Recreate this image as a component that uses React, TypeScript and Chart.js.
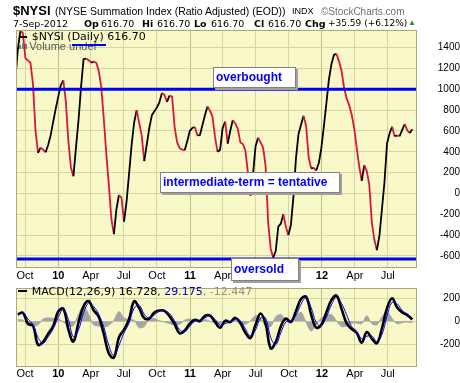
import React, { useEffect, useRef } from 'react';
import { Chart, registerables } from 'chart.js';

Chart.register(...registerables);

// ---------- data ----------
const DAY = 86400000;
const ORIGIN = Date.UTC(2009, 8, 1);
const dayNum = (iso: string) => {
  const [y, m, d] = iso.split('-').map(Number);
  return (Date.UTC(y, m - 1, d) - ORIGIN) / DAY;
};

const axisStart = '2009-09-06';
const axisEnd = '2012-09-20';

const tickDates = [
  '2009-10-01', '2010-01-01', '2010-04-01', '2010-07-01', '2010-10-01', '2011-01-01',
  '2011-04-01', '2011-07-01', '2011-10-01', '2012-01-01', '2012-04-01', '2012-07-01',
];
const tickLabels = ['Oct', '10', 'Apr', 'Jul', 'Oct', '11', 'Apr', 'Jul', 'Oct', '12', 'Apr', 'Jul'];
const yearLabels = ['10', '11', '12'];

const nysiTicks = [-600, -400, -200, 0, 200, 400, 600, 800, 1000, 1200, 1400];
const nysiMin = -709;
const nysiMax = 1574;
const macdTicks = [-200, 0, 200];
const macdMin = -398;
const macdMax = 291;

const overboughtLevel = 1000;
const oversoldLevel = -630;

// weekly NYSI closes, first week ending 2009-09-04
const nysiStart = '2009-09-04';
const nysiWeekly = [
  1080, 1380, 1560, 1540, 1300, 1275, 1255, 1050, 600, 390,
  440, 420, 395, 465, 560, 690, 815, 930, 1040, 1085,
  880, 500, 250, 165, 440, 700, 1020, 1290, 1295, 1280,
  1255, 1265, 1255, 1180, 1020, 720, 380, 80, -245, -390,
  -150, -15, -40, -270, -80, 190, 465, 680, 800, 680,
  555, 310, 470, 630, 750, 790, 825, 875, 965, 945,
  880, 940, 930, 640, 490, 435, 420, 415, 500, 600,
  628, 638, 557, 560, 655, 750, 835, 795, 735, 540,
  400, 420, 630, 690, 478, 600, 703, 672, 620, 490,
  475, 410, 200, -20, 180, 450, 535, 490, 440, 260,
  -280, -530, -617, -550, -320, -290, -200, -320, -400, -300,
  -30, 340, 570, 660, 745, 650, 350, 240, 245, 220,
  290, 430, 640, 860, 1090, 1240, 1330, 1340, 1270, 1180,
  1020, 915, 850, 760, 630, 440, 260, 120, 272, 215,
  80, -280, -445, -545, -405, -150, 110, 480, 575, 640,
  550, 555, 550, 610, 665, 605, 580, 617,
];

// MACD(12,26,9), read every two weeks, first point 2009-09-11
const macdStart = '2009-09-11';
const macdLine = [
  60, 75, -20, -38, -205, -178, -108, -40, 86, 110,
  -70, -176, -10, 132, 175, 97, 40, -110, -280, -315,
  -140, -72, 20, 175, 115, 28, 25, 78, 94, 92,
  45, -25, -105, -80, -20, 13, 3, 48, 50, -5,
  -55, 5, -6, 30, -15, -100, -145, -30, 68, -25,
  -235, -180, -45, 25, -5, 90, 195, 215, 60, -55,
  -30, 78, 185, 225, 110, -15, -66, -100, -185, -93,
  -150, -190, -60, 115, 202, 120, 78, 55, 17,
];
const signalLine = [
  55, 75, 20, -30, -140, -190, -135, -65, 35, 105,
  15, -135, -75, 75, 160, 130, 62, -50, -210, -300,
  -210, -100, -15, 115, 140, 62, 27, 58, 88, 93,
  67, 5, -72, -90, -43, 2, 8, 30, 49, 18,
  -33, -20, -2, 15, 6, -66, -127, -76, 29, 30,
  -140, -202, -100, -5, 8, 52, 150, 207, 120, -9,
  -40, 36, 143, 209, 156, 60, -45, -86, -151, -130,
  -127, -177, -114, 45, 167, 153, 95, 64, 29,
];
const histogram = [
  15, 10, -35, -40, -30, 20, 30, 25, 20, -5,
  -40, -35, 60, 135, 60, -30, -40, -50, -35, 10,
  85, 30, 15, 10, -55, -45, 25, 25, 5, -5,
  -20, -30, -25, 10, 20, 10, -5, 15, 0, -15,
  -20, 10, -10, 5, -15, -25, 5, 50, 30, -40,
  -45, 40, 60, 10, -10, 40, 80, -10, -85, -30,
  30, 50, 60, 5, -45, -40, -15, -15, -20, 50,
  -20, -30, 40, 85, 25, -20, -10, -5, -12,
];

// ---------- styling ----------
const SANS = "'Liberation Sans', Arial, sans-serif";
const DEJAVU = "'DejaVu Sans', Verdana, sans-serif";
const PLOT_BG = 'rgb(248,248,200)';
const GRID = 'rgb(214,214,160)';
const GRID_YEAR = 'rgb(190,190,130)';
const FRAME = 'rgb(170,170,120)';
const RED = 'rgb(220,20,60)';
const BLUE = '#0000ff';

const panelPlugin = {
  id: 'panel',
  beforeDraw(chart: any) {
    const { ctx, chartArea: a } = chart;
    ctx.save();
    ctx.fillStyle = PLOT_BG;
    ctx.fillRect(a.left, a.top, a.right - a.left, a.bottom - a.top);
    ctx.restore();
  },
  afterDraw(chart: any) {
    const { ctx, chartArea: a } = chart;
    ctx.save();
    ctx.strokeStyle = FRAME;
    ctx.lineWidth = 1;
    ctx.strokeRect(Math.round(a.left) + 0.5, Math.round(a.top) + 0.5, Math.round(a.right - a.left) - 1, Math.round(a.bottom - a.top) - 1);
    ctx.restore();
  },
};

const xScale = (pad: number, height: number) => ({
  type: 'linear',
  min: dayNum(axisStart),
  max: dayNum(axisEnd),
  afterBuildTicks: (s: any) => {
    s.ticks = tickDates.map((d) => ({ value: dayNum(d) }));
  },
  afterFit: (s: any) => {
    s.height = height;
  },
  ticks: {
    autoSkip: false,
    maxRotation: 0,
    minRotation: 0,
    padding: pad,
    color: '#000',
    font: (ctx: any) => ({
      family: SANS,
      size: 11,
      weight: yearLabels.includes(tickLabels[ctx.index]) ? 'bold' : 'normal',
    }),
    callback: (_v: any, i: number) => tickLabels[i],
  },
  grid: {
    drawTicks: false,
    color: (ctx: any) => (yearLabels.includes(tickLabels[ctx.index]) ? GRID_YEAR : GRID),
  },
  border: { display: false },
});

const yScale = (min: number, max: number, ticks: number[]) => ({
  type: 'linear',
  position: 'right',
  min,
  max,
  afterBuildTicks: (s: any) => {
    s.ticks = ticks.map((v) => ({ value: v }));
  },
  afterFit: (s: any) => {
    s.width = 43;
  },
  ticks: {
    crossAlign: 'far',
    padding: 4,
    color: '#000',
    font: { family: SANS, size: 10 },
    callback: (v: any) => String(v),
  },
  grid: { drawTicks: false, color: GRID },
  border: { display: false },
});

const levelLine = (y: number) => ({
  type: 'line',
  data: [
    { x: dayNum(axisStart), y },
    { x: dayNum(axisEnd), y },
  ],
  borderColor: BLUE,
  borderWidth: 3,
  pointRadius: 0,
  order: 0,
});

function Txt(props: { left: number; base: number; size: number; family?: string; color?: string; weight?: string; children: React.ReactNode }) {
  const { left, base, size, family = SANS, color = '#000', weight = 'normal', children } = props;
  return (
    <div
      style={{
        position: 'absolute',
        left,
        top: base - 0.8465 * size,
        fontSize: size,
        lineHeight: `${size}px`,
        fontFamily: family,
        color,
        fontWeight: weight as any,
        whiteSpace: 'pre',
      }}
    >
      {children}
    </div>
  );
}

function NoteBox(props: { left: number; top: number; width: number; height: number; text: string }) {
  const { left, top, width, height, text } = props;
  return (
    <div
      style={{
        position: 'absolute',
        left,
        top,
        width,
        height,
        boxSizing: 'border-box',
        border: '1px solid #808080',
        background: '#fff',
        boxShadow: '2px 2px 0 #a0a0a0',
        color: BLUE,
        fontFamily: SANS,
        fontWeight: 'bold',
        fontSize: 12,
        lineHeight: `${height - 2}px`,
        paddingLeft: 2,
        whiteSpace: 'pre',
      }}
    >
      {text}
    </div>
  );
}

export default function App() {
  const mainRef = useRef<HTMLCanvasElement>(null);
  const macdRef = useRef<HTMLCanvasElement>(null);

  useEffect(() => {
    const nysiPoints = nysiWeekly.map((v, i) => ({ x: dayNum(nysiStart) + 7 * i, y: v }));
    const biweekly = (arr: number[]) => arr.map((v, i) => ({ x: dayNum(macdStart) + 14 * i, y: v }));

    const main = new Chart(mainRef.current as HTMLCanvasElement, {
      type: 'line',
      data: {
        datasets: [
          levelLine(overboughtLevel) as any,
          levelLine(oversoldLevel) as any,
          {
            data: nysiPoints,
            borderColor: '#000',
            borderWidth: 1.8,
            pointRadius: 0,
            tension: 0,
            borderJoinStyle: 'round',
            order: 1,
            segment: {
              borderColor: (ctx: any) => (ctx.p1.parsed.y < ctx.p0.parsed.y ? RED : '#000'),
            },
          },
        ],
      },
      options: {
        responsive: false,
        animation: false,
        events: [],
        layout: { padding: { left: 16, top: 29.5, right: 0, bottom: 0 } },
        plugins: { legend: { display: false }, tooltip: { enabled: false } },
        scales: {
          x: xScale(2, 15.7) as any,
          y: yScale(nysiMin, nysiMax, nysiTicks) as any,
        },
      },
      plugins: [panelPlugin],
    });

    const macd = new Chart(macdRef.current as HTMLCanvasElement, {
      type: 'line',
      data: {
        datasets: [
          {
            data: biweekly(signalLine),
            borderColor: BLUE,
            borderWidth: 1,
            pointRadius: 0,
            tension: 0.4,
            order: 0,
          },
          {
            data: biweekly(macdLine),
            borderColor: '#000',
            borderWidth: 2.6,
            pointRadius: 0,
            tension: 0.4,
            order: 1,
          },
          {
            data: biweekly(histogram),
            borderColor: 'rgb(165,165,165)',
            backgroundColor: 'rgb(165,165,165)',
            borderWidth: 1,
            pointRadius: 0,
            tension: 0.3,
            fill: 'origin',
            order: 2,
          },
        ],
      },
      options: {
        responsive: false,
        animation: false,
        events: [],
        layout: { padding: { left: 16, top: 5.3, right: 0, bottom: 0 } },
        plugins: { legend: { display: false }, tooltip: { enabled: false } },
        scales: {
          x: xScale(0.5, 16) as any,
          y: yScale(macdMin, macdMax, macdTicks) as any,
        },
      },
      plugins: [panelPlugin],
    });

    return () => {
      main.destroy();
      macd.destroy();
    };
  }, []);

  const L2 = 27;
  return (
    <div style={{ position: 'absolute', left: 0, top: 0, width: 460, height: 383, background: '#fff', overflow: 'hidden' }}>
      <canvas ref={mainRef} width={460} height={283} style={{ position: 'absolute', left: 0, top: 0, width: 460, height: 283 }} />
      <canvas ref={macdRef} width={460} height={105} style={{ position: 'absolute', left: 0, top: 278, width: 460, height: 105 }} />

      {/* title lines */}
      <Txt left={13} base={15} size={13} weight="bold">$NYSI</Txt>
      <Txt left={55} base={15} size={10.5}>(NYSE Summation Index (Ratio Adjusted) (EOD))</Txt>
      <Txt left={292} base={15} size={9}>INDX</Txt>
      <Txt left={321} base={15} size={10} color="#707070">©StockCharts.com</Txt>

      <Txt left={13} base={L2} size={9.5} family={DEJAVU}>7-Sep-2012</Txt>
      <Txt left={84} base={L2} size={9.5} family={DEJAVU} weight="bold">Op</Txt>
      <Txt left={101} base={L2} size={9.5} family={DEJAVU}>616.70</Txt>
      <Txt left={142} base={L2} size={9.5} family={DEJAVU} weight="bold">Hi</Txt>
      <Txt left={157} base={L2} size={9.5} family={DEJAVU}>616.70</Txt>
      <Txt left={194} base={L2} size={9.5} family={DEJAVU} weight="bold">Lo</Txt>
      <Txt left={211} base={L2} size={9.5} family={DEJAVU}>616.70</Txt>
      <Txt left={254} base={L2} size={9.5} family={DEJAVU} weight="bold">Cl</Txt>
      <Txt left={268} base={L2} size={9.5} family={DEJAVU}>616.70</Txt>
      <Txt left={305} base={L2} size={9.5} family={DEJAVU} weight="bold">Chg</Txt>
      <Txt left={328} base={L2} size={9} family={DEJAVU}>+35.59 (+6.12%)</Txt>
      <Txt left={408} base={26} size={8} color="#2e8b2e">▲</Txt>

      {/* main legend */}
      <div style={{ position: 'absolute', left: 20, top: 36, width: 7, height: 2, background: '#000' }} />
      <Txt left={31.7} base={40.5} size={11} family={DEJAVU}>$NYSI (Daily) 616.70</Txt>
      <div style={{ position: 'absolute', left: 19, top: 45, width: 2, height: 4, background: '#777' }} />
      <div style={{ position: 'absolute', left: 22, top: 43, width: 2, height: 6, background: '#777' }} />
      <div style={{ position: 'absolute', left: 25, top: 44, width: 2, height: 5, background: '#777' }} />
      <Txt left={29.3} base={50} size={11} color="#555">Volume undef</Txt>
      <div style={{ position: 'absolute', left: 72, top: 44, width: 34, height: 2, background: BLUE }} />

      {/* MACD legend */}
      <div style={{ position: 'absolute', left: 18, top: 290, width: 9, height: 2, background: '#000' }} />
      <Txt left={31.7} base={295} size={11} family={DEJAVU}>
        MACD(12,26,9) 16.728<span style={{ color: '#0000cc' }}>, 29.175</span><span style={{ color: '#909090' }}>, -12.447</span>
      </Txt>

      {/* annotations */}
      <NoteBox left={213} top={67} width={83} height={21} text="overbought" />
      <NoteBox left={160} top={172} width={180} height={21} text="intermediate-term = tentative" />
      <NoteBox left={231} top={258} width={68} height={23} text="oversold" />
    </div>
  );
}
